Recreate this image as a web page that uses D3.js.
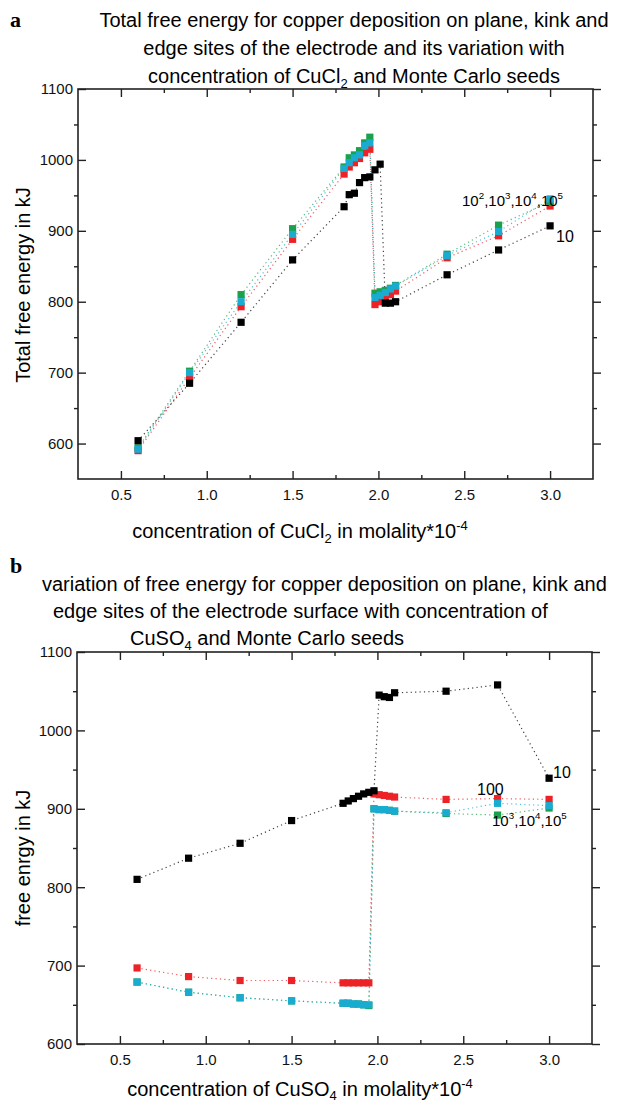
<!DOCTYPE html>
<html>
<head>
<meta charset="utf-8">
<script src="https://cdn.jsdelivr.net/npm/d3@7"></script>
<style>
  body { margin: 0; background: #fff; }
  svg { display: block; font-family: "Liberation Sans", Arial, sans-serif; }
</style>
</head>
<body>
<svg id="chart" width="618" height="1105"></svg>
<script>
// concentration values (molality * 10^-4), shared by both panels
const conc = [0.6, 0.9, 1.2, 1.5, 1.8, 1.83, 1.86, 1.89, 1.92, 1.95, 1.98, 2.01, 2.04, 2.07, 2.1, 2.4, 2.7, 3.0];

// panel a : CuCl2, total free energy (kJ)
const clSeed10   = [604, 685, 771, 859, 934, 951, 953, 968, 975, 976, 986, 994, 798, 798, 800, 838, 873, 907];
const clSeed100  = [590, 693, 793, 888, 980, 990, 996, 1002, 1010, 1015, 796, 800, 805, 810, 815, 862, 893, 935];
const clSeed1e4  = [594, 702, 810, 903, 990, 1003, 1007, 1013, 1024, 1032, 812, 814, 816, 819, 823, 867, 908, 941];
const clSeed1e5  = [592, 700, 800, 895, 988, 996, 1003, 1007, 1020, 1024, 806, 809, 813, 818, 822, 865, 899, 945];

// panel b : CuSO4, free energy (kJ)
const soSeed10   = [810, 837, 856, 885, 907, 910, 913, 916, 919, 921, 923, 1045, 1043, 1042, 1048, 1050, 1058, 939];
const soSeed100  = [697, 686, 681, 681, 678, 678, 678, 678, 678, 678, 919, 918, 917, 916, 915, 912, 913, 912];
const soSeed1e4  = [679, 666, 659, 655, 652, 652, 651, 651, 650, 649, 900, 899, 899, 898, 897, 894, 892, 901];
const soSeed1e5  = [679, 666, 659, 655, 652, 652, 651, 651, 650, 650, 900, 899, 899, 898, 897, 895, 907, 904];

const xMajor = [0.5, 1.0, 1.5, 2.0, 2.5, 3.0];
const xMinor = [0.75, 1.25, 1.75, 2.25, 2.75];
const yMajor = [600, 700, 800, 900, 1000, 1100];
const yMinor = [650, 750, 850, 950, 1050];

const colors = { black: "#000000", red: "#ec2227", green: "#1ba04c", cyan: "#19acd0" };

const svg = d3.select("#chart");

function panel(opts) {
  const x = d3.scaleLinear().domain([0.25, 3.25]).range([opts.left, opts.right]);
  const y = d3.scaleLinear().domain(opts.yDomain).range([opts.bottom, opts.top]);
  const g = svg.append("g");

  // ticks, all pointing inwards
  const tick = (axis, vals, size, tr) => g.append("g").attr("transform", tr)
    .call(axis.tickValues(vals).tickSize(-size).tickFormat(""));
  tick(d3.axisBottom(x), xMinor, 4, `translate(0,${opts.bottom})`);
  tick(d3.axisTop(x), xMajor, 8, `translate(0,${opts.top})`);
  tick(d3.axisTop(x), xMinor, 4, `translate(0,${opts.top})`);
  tick(d3.axisRight(y), yMinor, 4, `translate(${opts.left},0)`);
  tick(d3.axisLeft(y), yMajor, 8, `translate(${opts.right},0)`);
  tick(d3.axisLeft(y), yMinor, 4, `translate(${opts.right},0)`);

  g.append("g").attr("transform", `translate(0,${opts.bottom})`)
    .call(d3.axisBottom(x).tickValues(xMajor).tickSize(-8).tickPadding(10).tickFormat(d3.format(".1f")));
  g.append("g").attr("transform", `translate(${opts.left},0)`)
    .call(d3.axisRight(y).tickValues(yMajor).tickSize(8).tickFormat(""));
  g.append("g").attr("transform", `translate(${opts.left},0)`)
    .call(d3.axisLeft(y).tickValues(yMajor).tickSize(0).tickPadding(5).tickFormat(d3.format("d")));

  g.selectAll(".domain").remove();
  g.selectAll(".tick line").attr("stroke", "#222").attr("stroke-width", 1.4);
  g.selectAll(".tick text").attr("font-size", 15).attr("fill", "#111")
    .attr("font-family", "Liberation Sans, Arial, sans-serif");

  g.append("rect")
    .attr("x", opts.left).attr("y", opts.top)
    .attr("width", opts.right - opts.left).attr("height", opts.bottom - opts.top)
    .attr("fill", "none").attr("stroke", "#222").attr("stroke-width", 1.6);

  const line = d3.line().x((d, i) => x(conc[i])).y(d => y(d));
  const series = [
    { vals: opts.data[1], color: colors.red },
    { vals: opts.data[2], color: colors.green },
    { vals: opts.data[3], color: colors.cyan },
    { vals: opts.data[0], color: colors.black }
  ];
  series.forEach(s => {
    g.append("path").datum(s.vals)
      .attr("d", line)
      .attr("fill", "none")
      .attr("stroke", s.color)
      .attr("stroke-width", 1.2)
      .attr("stroke-dasharray", "1.2,3.2")
      .attr("opacity", 0.75);
  });
  series.forEach(s => {
    g.append("g").selectAll("rect").data(s.vals).join("rect")
      .attr("x", (d, i) => x(conc[i]) - 3.6)
      .attr("y", d => y(d) - 3.6)
      .attr("width", 7.2).attr("height", 7.2)
      .attr("fill", s.color);
  });
  return { x, y };
}

function powerLabel(sel, parts, size) {
  parts.forEach((p, i) => {
    sel.append("tspan").attr("dy", i === 0 ? 0 : 7).text((i ? "," : "") + "10");
    sel.append("tspan").attr("dy", -7).attr("font-size", size * 0.65).text(p);
  });
}

// ---------- panel a ----------
svg.append("text").attr("x", 10).attr("y", 27)
  .attr("font-family", "Liberation Serif, serif").attr("font-weight", "bold").attr("font-size", 22).text("a");

const titleA = [
  "Total free energy for copper deposition on plane, kink and",
  "edge sites of the electrode and its variation with"
];
titleA.forEach((t, i) => svg.append("text").attr("x", 354).attr("y", 27 + i * 28)
  .attr("text-anchor", "middle").attr("font-size", 20).text(t));
const ta3 = svg.append("text").attr("x", 354).attr("y", 83).attr("text-anchor", "middle").attr("font-size", 20);
ta3.append("tspan").text("concentration of CuCl");
ta3.append("tspan").attr("dy", 5).attr("font-size", 13).text("2");
ta3.append("tspan").attr("dy", -5).text(" and Monte Carlo seeds");

const pa = panel({
  left: 78, right: 593, top: 89, bottom: 479, yDomain: [550, 1100],
  data: [clSeed10, clSeed100, clSeed1e4, clSeed1e5]
});

const xa = svg.append("text").attr("x", 300).attr("y", 538).attr("text-anchor", "middle").attr("font-size", 20);
xa.append("tspan").text("concentration of CuCl");
xa.append("tspan").attr("dy", 5).attr("font-size", 13).text("2");
xa.append("tspan").attr("dy", -5).text(" in molality*10");
xa.append("tspan").attr("dy", -8).attr("font-size", 13).text("-4");

svg.append("text").attr("transform", "translate(30,285) rotate(-90)")
  .attr("text-anchor", "middle").attr("font-size", 20).text("Total free energy in kJ");

const la = svg.append("text").attr("x", 462).attr("y", 206).attr("font-size", 15);
powerLabel(la, ["2", "3", "4", "5"], 15);
svg.append("text").attr("x", 556).attr("y", 242).attr("font-size", 16).text("10");

// ---------- panel b ----------
svg.append("text").attr("x", 10).attr("y", 573)
  .attr("font-family", "Liberation Serif, serif").attr("font-weight", "bold").attr("font-size", 22).text("b");

svg.append("text").attr("x", 42).attr("y", 591).attr("font-size", 20)
  .text("variation of free energy for copper deposition on plane, kink and");
svg.append("text").attr("x", 53).attr("y", 618).attr("font-size", 20)
  .text("edge sites of the electrode surface with concentration of");
const tb3 = svg.append("text").attr("x", 130).attr("y", 645).attr("font-size", 20);
tb3.append("tspan").text("CuSO");
tb3.append("tspan").attr("dy", 5).attr("font-size", 13).text("4");
tb3.append("tspan").attr("dy", -5).text(" and Monte Carlo seeds");

const pb = panel({
  left: 77, right: 592, top: 652, bottom: 1044, yDomain: [600, 1100],
  data: [soSeed10, soSeed100, soSeed1e4, soSeed1e5]
});

const xb = svg.append("text").attr("x", 300).attr("y", 1096).attr("text-anchor", "middle").attr("font-size", 20);
xb.append("tspan").text("concentration of CuSO");
xb.append("tspan").attr("dy", 4).attr("font-size", 13).text("4");
xb.append("tspan").attr("dy", -4).text(" in molality*10");
xb.append("tspan").attr("dy", -8).attr("font-size", 13).text("-4");

svg.append("text").attr("transform", "translate(30,858) rotate(-90)")
  .attr("text-anchor", "middle").attr("font-size", 20).text("free enrgy in kJ");

svg.append("text").attr("x", 477).attr("y", 795).attr("font-size", 16).text("100");
svg.append("text").attr("x", 553).attr("y", 778).attr("font-size", 16).text("10");
const lb = svg.append("text").attr("x", 492).attr("y", 826).attr("font-size", 15);
powerLabel(lb, ["3", "4", "5"], 15);
</script>
</body>
</html>
